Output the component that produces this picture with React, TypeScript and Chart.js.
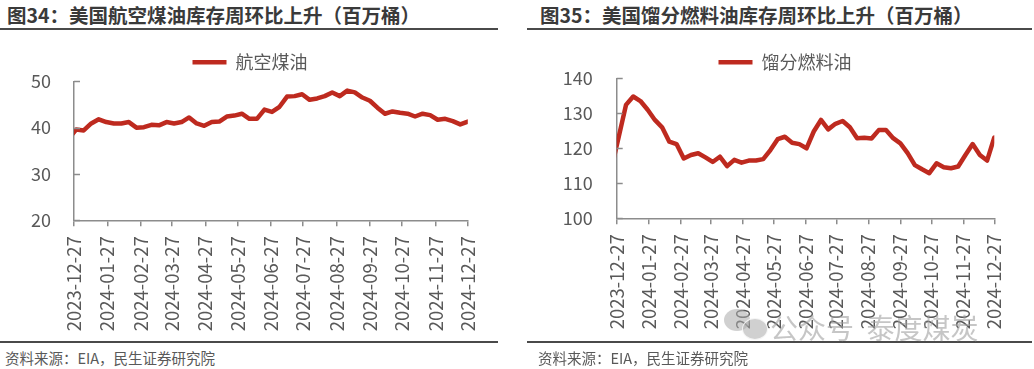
import React, { useEffect, useRef } from "react";
import { Chart, registerables } from "chart.js";

Chart.register(...registerables);

// ---------- data ----------
const weekDates = [
  "2023-12-22", "2023-12-29",
  "2024-01-05", "2024-01-12", "2024-01-19", "2024-01-26",
  "2024-02-02", "2024-02-09", "2024-02-16", "2024-02-23",
  "2024-03-01", "2024-03-08", "2024-03-15", "2024-03-22", "2024-03-29",
  "2024-04-05", "2024-04-12", "2024-04-19", "2024-04-26",
  "2024-05-03", "2024-05-10", "2024-05-17", "2024-05-24", "2024-05-31",
  "2024-06-07", "2024-06-14", "2024-06-21", "2024-06-28",
  "2024-07-05", "2024-07-12", "2024-07-19", "2024-07-26",
  "2024-08-02", "2024-08-09", "2024-08-16", "2024-08-23", "2024-08-30",
  "2024-09-06", "2024-09-13", "2024-09-20", "2024-09-27",
  "2024-10-04", "2024-10-11", "2024-10-18", "2024-10-25",
  "2024-11-01", "2024-11-08", "2024-11-15", "2024-11-22", "2024-11-29",
  "2024-12-06", "2024-12-13", "2024-12-20", "2024-12-27",
];

const jetFuel = [
  37.6, 39.6, 39.4, 40.9, 41.8, 41.2, 40.9, 40.9, 41.2, 40.0,
  40.1, 40.6, 40.5, 41.2, 40.9, 41.2, 42.2, 40.9, 40.4, 41.2,
  41.3, 42.4, 42.6, 43.0, 41.9, 41.9, 43.9, 43.4, 44.5, 46.7,
  46.8, 47.2, 46.0, 46.3, 46.8, 47.6, 46.8, 48.0, 47.6, 46.5,
  45.8, 44.3, 43.0, 43.5, 43.2, 43.0, 42.4, 43.0, 42.7, 41.7,
  41.9, 41.4, 40.7, 41.3,
];

const distillate = [
  114.5, 123.3, 132.4, 134.8, 133.5, 131.0, 128.1, 126.0, 121.9, 121.2,
  117.1, 118.1, 118.6, 117.4, 116.1, 117.6, 114.9, 116.7, 115.9, 116.5,
  116.5, 116.9, 119.5, 122.6, 123.3, 121.6, 121.2, 120.0, 124.8, 128.1,
  125.4, 127.0, 127.8, 126.0, 122.9, 123.0, 122.8, 125.2, 125.2, 122.9,
  121.4, 118.6, 115.2, 114.0, 112.9, 115.7, 114.6, 114.3, 114.8, 118.1,
  121.2, 118.1, 116.5, 123.1,
];

const tickDates = [
  "2023-12-27", "2024-01-27", "2024-02-27", "2024-03-27", "2024-04-27",
  "2024-05-27", "2024-06-27", "2024-07-27", "2024-08-27", "2024-09-27",
  "2024-10-27", "2024-11-27", "2024-12-27",
];

const jetName = "航空煤油";
const distName = "馏分燃料油";
const title34 = "图34：美国航空煤油库存周环比上升（百万桶）";
const title35 = "图35：美国馏分燃料油库存周环比上升（百万桶）";
const sourceText = "资料来源：EIA，民生证券研究院";

// ---------- styles ----------
const RED = "#BE2A1F";
const AXIS = "#8c8c8c";
const TEXT = "#595959";
const FONT = "'Noto Sans CJK SC', 'Noto Sans', sans-serif";

const DAY = 86400000;
const ORIGIN = Date.UTC(2023, 11, 27);
function dayOf(s: string): number {
  const [y, m, d] = s.split("-").map(Number);
  return (Date.UTC(y, m - 1, d) - ORIGIN) / DAY;
}

const innerTicks = {
  id: "innerTicks",
  afterDraw(chart: any) {
    const ys = chart.scales.y;
    const ctx = chart.ctx;
    ctx.save();
    ctx.strokeStyle = AXIS;
    ctx.lineWidth = 1.5;
    ys.ticks.forEach((t: any) => {
      const py = Math.round(ys.getPixelForValue(t.value)) + 0.5;
      ctx.beginPath();
      ctx.moveTo(chart.chartArea.left, py);
      ctx.lineTo(chart.chartArea.left + 6, py);
      ctx.stroke();
    });
    ctx.restore();
  },
};

// centre the legend at a given x (in canvas coords)
const legendCentre = {
  id: "legendCentre",
  afterLayout(chart: any, _args: any, opts: any) {
    const lg = chart.legend;
    if (!lg || opts.x == null) return;
    const shift = opts.x - (lg.left + lg.right) / 2;
    lg.left += shift;
    lg.right += shift;
  },
};

type Props = {
  values: number[];
  name: string;
  yMin: number;
  yMax: number;
  left: number;
  width: number;
  height: number;
  yAxisWidth: number;
  xAxisHeight: number;
  padding: { left: number; right: number; top: number; bottom: number };
  legendMaxHeight: number;
  legendX: number;
  labelPad: number;
};

function LineChart(p: Props) {
  const ref = useRef<HTMLCanvasElement>(null);
  useEffect(() => {
    const tickVals = tickDates.map(dayOf);
    const chart = new Chart(ref.current as HTMLCanvasElement, {
      type: "line",
      data: {
        datasets: [
          {
            label: p.name,
            data: weekDates.map((d, i) => ({ x: dayOf(d), y: p.values[i] })),
            borderColor: RED,
            backgroundColor: RED,
            borderWidth: 4.5,
            pointRadius: 0,
            tension: 0,
            borderCapStyle: "round",
            borderJoinStyle: "round",
            clip: 0,
          } as any,
        ],
      },
      options: {
        responsive: false,
        maintainAspectRatio: false,
        animation: false,
        layout: { padding: p.padding },
        plugins: {
          legend: {
            display: true,
            position: "top",
            maxHeight: p.legendMaxHeight,
            labels: {
              usePointStyle: true,
              pointStyle: "line",
              pointStyleWidth: 34,
              padding: 10,
              color: TEXT,
              font: { size: 18, family: FONT },
            },
          } as any,
          legendCentre: { x: p.legendX },
          tooltip: { enabled: false },
        } as any,
        scales: {
          x: {
            type: "linear",
            min: 0,
            max: tickVals[tickVals.length - 1],
            afterBuildTicks: (s: any) => {
              s.ticks = tickVals.map((v) => ({ value: v }));
            },
            afterFit: (s: any) => {
              s.height = p.xAxisHeight;
            },
            ticks: {
              autoSkip: false,
              minRotation: 90,
              maxRotation: 90,
              padding: 10,
              color: TEXT,
              font: { size: 18.5, family: FONT },
              callback: (_v: any, i: number) => tickDates[i],
            },
            grid: {
              display: true,
              drawOnChartArea: false,
              drawTicks: true,
              tickLength: 6,
              color: AXIS,
              lineWidth: 1.5,
            },
            border: { display: true, color: AXIS, width: 1.5 },
          } as any,
          y: {
            min: p.yMin,
            max: p.yMax,
            afterFit: (s: any) => {
              s.width = p.yAxisWidth;
            },
            ticks: {
              stepSize: 10,
              padding: p.labelPad,
              color: TEXT,
              font: { size: 18, family: FONT },
            },
            grid: { display: false, drawTicks: false },
            border: { display: true, color: AXIS, width: 1.5 },
          } as any,
        },
      },
      plugins: [innerTicks, legendCentre],
    });
    return () => chart.destroy();
  }, []);
  return (
    <canvas
      ref={ref}
      width={p.width}
      height={p.height}
      style={{ position: "absolute", left: p.left, top: 0, width: p.width, height: p.height }}
    />
  );
}

const titleStyle: React.CSSProperties = {
  position: "absolute",
  top: 3,
  fontFamily: FONT,
  fontWeight: 700,
  fontSize: 19.5,
  lineHeight: "24px",
  color: "#3a3a3a",
  whiteSpace: "nowrap",
};
const srcStyle: React.CSSProperties = {
  position: "absolute",
  top: 348,
  fontFamily: FONT,
  fontSize: 14.5,
  lineHeight: "19px",
  color: TEXT,
  whiteSpace: "nowrap",
};
const rule = (left: number, width: number, top: number): React.CSSProperties => ({
  position: "absolute",
  left,
  width,
  top,
  height: 2,
  background: "#4a4a4a",
});

export default function App() {
  return (
    <div
      style={{
        position: "absolute",
        left: 0,
        top: 0,
        width: 1034,
        height: 369,
        background: "#ffffff",
        overflow: "hidden",
      }}
    >
      <div style={{ ...titleStyle, left: 7 }}>{title34}</div>
      <div style={{ ...titleStyle, left: 540 }}>{title35}</div>
      <div style={rule(0, 498, 27.5)} />
      <div style={rule(527, 505, 27.5)} />

      <LineChart
        values={jetFuel}
        name={jetName}
        yMin={20}
        yMax={50}
        left={0}
        width={500}
        height={340}
        yAxisWidth={74}
        xAxisHeight={119.7}
        padding={{ left: 0, right: 32, top: 43.3, bottom: 0 }}
        legendMaxHeight={100}
        legendX={250}
        labelPad={23}
      />
      <LineChart
        values={distillate}
        name={distName}
        yMin={100}
        yMax={140}
        left={527}
        width={507}
        height={340}
        yAxisWidth={89.7}
        xAxisHeight={121.7}
        padding={{ left: 0, right: 39.7, top: 43.3, bottom: 0 }}
        legendMaxHeight={35}
        legendX={258}
        labelPad={24}
      />

      <div style={rule(0, 498, 340.5)} />
      <div style={rule(527, 505, 341)} />
      <div style={{ ...srcStyle, left: 5 }}>{sourceText}</div>
      <div style={{ ...srcStyle, left: 538 }}>{sourceText}</div>

      {/* watermark */}
      <div
        style={{
          position: "absolute",
          left: 724,
          top: 309,
          width: 26,
          height: 22,
          borderRadius: "50%",
          background: "rgba(170,170,170,0.55)",
        }}
      />
      <div
        style={{
          position: "absolute",
          left: 742,
          top: 318,
          width: 24,
          height: 20,
          borderRadius: "50%",
          background: "rgba(170,170,170,0.55)",
          border: "1.5px solid rgba(255,255,255,0.8)",
        }}
      />
      <div
        style={{
          position: "absolute",
          left: 770,
          top: 309,
          fontFamily: FONT,
          fontSize: 28,
          lineHeight: "36px",
          color: "rgba(160,160,160,0.6)",
          whiteSpace: "pre",
        }}
      >
        {"公众号  泰度煤炭"}
      </div>
    </div>
  );
}
